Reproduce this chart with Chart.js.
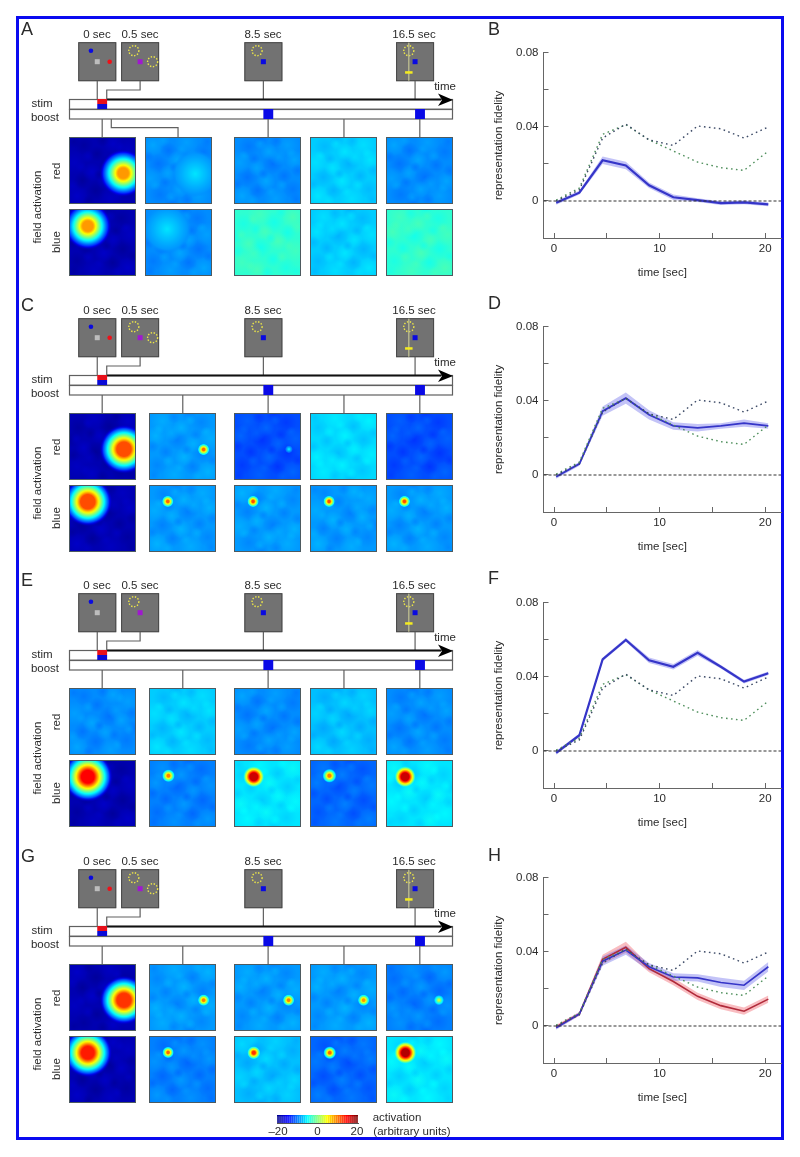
<!DOCTYPE html>
<html>
<head>
<meta charset="utf-8">
<title>Representation fidelity and field activation</title>
<script src="https://cdn.jsdelivr.net/npm/chart.js@4/dist/chart.umd.min.js"></script>
<style>
html, body { margin: 0; padding: 0; background: #fff; }
#fig { position: relative; width: 800px; height: 1157px; overflow: hidden; filter: blur(0.4px); font-family: "Liberation Sans", Arial, sans-serif; color: #2b2b2b; }
#fig canvas { position: absolute; display: block; }
#frame { position: absolute; left: 16px; top: 16px; width: 762px; height: 1118px; border: 3.5px solid #0a0af0; }
.lbl { position: absolute; white-space: nowrap; font-size: 11.5px; line-height: 14px; transform: translate(-50%, -50%); }
.letter { position: absolute; font-size: 18px; line-height: 18px; }
</style>
</head>
<body>
<div id="fig"><div id="frame"></div></div>
<script>
// ---- right column: representation fidelity curves ----
const timeSec = [0.2, 2.4, 4.6, 6.8, 9.0, 11.3, 13.6, 15.8, 18.0, 20.3];
const dottedDark = [0, 0.006, 0.034, 0.0415, 0.033, 0.030, 0.0405, 0.039, 0.034, 0.040];
const dottedGreen = [0.0005, 0.007, 0.036, 0.0412, 0.033, 0.027, 0.021, 0.018, 0.0165, 0.027];
const fidelityB = [-0.001, 0.0045, 0.022, 0.0192, 0.0085, 0.002, 0.0005, -0.0012, -0.0008, -0.0018];
const fidelityD = [-0.001, 0.006, 0.0345, 0.0415, 0.0325, 0.0265, 0.0255, 0.0265, 0.028, 0.0265];
const fidelityF = [-0.001, 0.0085, 0.0495, 0.06, 0.049, 0.0455, 0.053, 0.0455, 0.0375, 0.042];
const fidelityHBlue = [-0.001, 0.0065, 0.035, 0.041, 0.032, 0.0265, 0.026, 0.0235, 0.022, 0.032];
const fidelityHRed = [-0.0005, 0.0065, 0.036, 0.0425, 0.031, 0.024, 0.016, 0.011, 0.008, 0.0145];
const errB = [0.001, 0.001, 0.002, 0.002, 0.0015, 0.0015, 0.001, 0.001, 0.001, 0.001];
const errD = [0.001, 0.001, 0.0025, 0.003, 0.0025, 0.002, 0.002, 0.0015, 0.002, 0.0015];
const errF = [0.001, 0.001, 0.001, 0.001, 0.0015, 0.0015, 0.0015, 0.001, 0.001, 0.001];
const errHBlue = [0.001, 0.001, 0.0025, 0.0025, 0.002, 0.002, 0.002, 0.0025, 0.0025, 0.0025];
const errHRed = [0.001, 0.001, 0.0025, 0.003, 0.002, 0.002, 0.002, 0.002, 0.002, 0.002];
const xTickValues = [0, 5, 10, 15, 20];
const xTickLabels = ['0', '', '10', '', '20'];
const yTickValues = [-0.02, 0, 0.02, 0.04, 0.06, 0.08];
const yTickLabels = ['', '0', '', '0.04', '', '0.08'];

// ---- left column: field activation panels, rows A C E G ----
const rowLetters = ['A', 'C', 'E', 'G'];
const curveLetters = ['B', 'D', 'F', 'H'];
const columnLefts = [69, 149, 234, 310, 386];
const screenLabels = ['0 sec', '0.5 sec', '8.5 sec', '16.5 sec'];
const screenTimes = [-0.26, 2, 8.5, 16.5];
const boostTimes = [8.5, 16.5];
const panelTimes = [0, 4.25, 8.75, 12.75, 16.75];

// background activation of each panel
const baseRed = [
  [-18.5, -9.5, -9.5, -7, -9.5],
  [-18.5, -9, -12, -6.5, -12],
  [-9.5, -7, -9.5, -7.5, -9.5],
  [-18.5, -9, -9, -9, -10]
];
const baseBlue = [
  [-18.5, -9.5, -3.2, -7, -3.2],
  [-18.5, -9, -9, -9, -9],
  [-18.5, -10, -6, -11, -6],
  [-18.5, -10, -7.5, -11, -6]
];
// activation bumps [x, y, extent, slope peak, ceiling] in field coordinates
const spotsRed = [
  [[[0.81, 0.46, 0.36, 18, 9]], [[0.75, 0.45, 0.35, -6, -6]], [], [], []],
  [[[0.82, 0.46, 0.37, 26, 12]], [[0.815, 0.455, 0.09, 17, 11]], [[0.82, 0.46, 0.06, -5, -5]], [], []],
  [[], [], [], [], []],
  [[[0.82, 0.46, 0.37, 27, 13]], [[0.815, 0.46, 0.09, 16, 10]], [[0.815, 0.46, 0.09, 16, 10]], [[0.8, 0.46, 0.09, 15, 9]], [[0.79, 0.46, 0.08, 5, 5]]]
];
const spotsBlue = [
  [[[0.28, 0.745, 0.36, 18, 9]], [[0.33, 0.7, 0.36, -6, -6]], [], [], []],
  [[[0.28, 0.75, 0.37, 26, 12]], [[0.28, 0.755, 0.09, 17, 11]], [[0.285, 0.755, 0.09, 18, 12]], [[0.285, 0.755, 0.09, 18, 12]], [[0.275, 0.755, 0.09, 18, 12]]],
  [[[0.28, 0.75, 0.38, 28, 15]], [[0.29, 0.765, 0.1, 16, 10]], [[0.295, 0.75, 0.16, 32, 17]], [[0.29, 0.765, 0.11, 16, 10]], [[0.285, 0.75, 0.16, 32, 17]]],
  [[[0.28, 0.75, 0.37, 27, 14]], [[0.285, 0.755, 0.09, 17, 11]], [[0.295, 0.75, 0.1, 20, 13]], [[0.295, 0.75, 0.1, 17, 11]], [[0.29, 0.75, 0.17, 32, 18]]]
];
// soft blotches that give the panels their mottled look
const mottleX = [0.12, 0.35, 0.62, 0.88, 0.2, 0.48, 0.75, 0.08, 0.34, 0.58, 0.9, 0.22, 0.52, 0.8, 0.4, 0.66, 0.05, 0.27, 0.44, 0.71, 0.95, 0.15, 0.39, 0.63, 0.85, 0.3, 0.55, 0.93];
const mottleY = [0.88, 0.8, 0.92, 0.78, 0.6, 0.66, 0.58, 0.38, 0.46, 0.4, 0.34, 0.14, 0.22, 0.12, 0.02, 0.3, 0.7, 0.95, 0.55, 0.72, 0.5, 0.28, 0.1, 0.06, 0.24, 0.32, 0.82, 0.93];
const mottleSize = [0.17, 0.13, 0.18, 0.15, 0.16, 0.14, 0.12, 0.18, 0.13, 0.16, 0.15, 0.16, 0.13, 0.18, 0.12, 0.13, 0.09, 0.1, 0.08, 0.09, 0.1, 0.08, 0.09, 0.1, 0.08, 0.09, 0.08, 0.1];
const mottleDelta = [1.4, -1.3, 1, -1, -1.3, 1.4, -1.2, 1.1, 1.2, -1.4, 1.3, -1, 1.3, 1, -1.2, 0.9, -1, 1, -0.9, 0.9, -1, 1, 0.9, -0.9, 1, -1, 0.9, -0.9];

const colorbarValues = Array.from({ length: 41 }, (_, i) => i - 20);
const colorbarLabels = { '-20': '\u201320', '0': '0', '20': '20' };

const rowOffsets = [0, 276, 551, 827];
const curveTops = [48, 322, 598, 873];
const curveHeight = 190;

Chart.defaults.animation = false;
Chart.defaults.responsive = false;
Chart.defaults.events = [];
Chart.defaults.plugins.legend.display = false;
Chart.defaults.plugins.tooltip.enabled = false;
Chart.defaults.font.family = '"Liberation Sans", Arial, sans-serif';

const fig = document.getElementById('fig');

function addCanvas(left, top, width, height) {
  const c = document.createElement('canvas');
  c.width = width;
  c.height = height;
  c.style.left = left + 'px';
  c.style.top = top + 'px';
  fig.appendChild(c);
  return c;
}

function addLabel(text, x, y, rotated) {
  const el = document.createElement('div');
  el.className = 'lbl';
  el.textContent = text;
  el.style.left = x + 'px';
  el.style.top = y + 'px';
  if (rotated) el.style.transform = 'translate(-50%, -50%) rotate(-90deg)';
  fig.appendChild(el);
}

function addLetter(text, x, y) {
  const el = document.createElement('div');
  el.className = 'letter';
  el.textContent = text;
  el.style.left = x + 'px';
  el.style.top = y + 'px';
  fig.appendChild(el);
}

// jet colour map over -20..20
function jet(v) {
  const t = Math.max(0, Math.min(1, (v + 20) / 40));
  const stops = [[0, 0, 0, 143], [0.125, 0, 0, 255], [0.375, 0, 255, 255], [0.625, 255, 255, 0], [0.875, 255, 0, 0], [1, 128, 0, 0]];
  for (let i = 1; i < stops.length; i++) {
    if (t <= stops[i][0]) {
      const a = stops[i - 1], b = stops[i];
      const f = (t - a[0]) / (b[0] - a[0]);
      return [1, 2, 3].map(k => Math.round(a[k] + (b[k] - a[k]) * f));
    }
  }
  return [128, 0, 0];
}

function pixelSize(chart, extent) {
  const size = chart.scales.x.getPixelForValue(extent) - chart.scales.x.getPixelForValue(0);
  return Number.isFinite(size) ? size : 0;
}

// radial fill running through the colour map from the peak down to the panel level
function spotFill(ctx) {
  if (!ctx.raw) return 'transparent';
  const chart = ctx.chart, p = ctx.raw;
  const px = chart.scales.x.getPixelForValue(p.x), py = chart.scales.y.getPixelForValue(p.y);
  if (!Number.isFinite(px) || !Number.isFinite(py)) return 'transparent';
  const g = chart.ctx.createRadialGradient(px, py, 0, px, py, pixelSize(chart, p.ext));
  const steps = 24;
  for (let i = 0; i <= steps; i++) {
    const s = i / steps;
    const v = Math.min(p.cap, p.base + (p.peak - p.base) * Math.pow(1 - s, 1.1));
    const alpha = Math.min(1, (steps - i) / 4);
    g.addColorStop(s, `rgba(${jet(v).join(',')},${alpha})`);
  }
  return g;
}

function mottleFill(ctx) {
  if (!ctx.raw) return 'transparent';
  const chart = ctx.chart, p = ctx.raw;
  const px = chart.scales.x.getPixelForValue(p.x), py = chart.scales.y.getPixelForValue(p.y);
  if (!Number.isFinite(px) || !Number.isFinite(py)) return 'transparent';
  const g = chart.ctx.createRadialGradient(px, py, 0, px, py, pixelSize(chart, p.ext));
  const rgb = jet(p.base + p.delta).join(',');
  g.addColorStop(0, `rgba(${rgb},0.7)`);
  g.addColorStop(1, `rgba(${rgb},0)`);
  return g;
}

const panelFrame = {
  id: 'panelFrame',
  beforeDatasetsDraw(chart, args, opts) {
    const { left, top, width, height } = chart.chartArea;
    chart.ctx.fillStyle = `rgb(${jet(opts.base).join(',')})`;
    chart.ctx.fillRect(left, top, width, height);
  },
  afterDatasetsDraw(chart) {
    const { left, top, width, height } = chart.chartArea;
    chart.ctx.strokeStyle = '#4d5a60';
    chart.ctx.lineWidth = 1;
    chart.ctx.strokeRect(left + 0.5, top + 0.5, width - 1, height - 1);
  }
};

function drawPanel(left, top, base, spots, seed) {
  // each panel reads the blotch list in a different orientation
  const mottle = mottleX.map((mx, i) => {
    const my = mottleY[i];
    const a = seed % 2 ? mx : 1 - mx;
    const b = seed % 3 === 0 ? my : 1 - my;
    return { x: seed % 5 === 1 ? b : a, y: seed % 5 === 1 ? a : b, ext: mottleSize[i], delta: mottleDelta[i], base };
  });
  new Chart(addCanvas(left, top, 67, 67), {
    type: 'scatter',
    data: {
      datasets: [
        {
          data: spots.map(s => ({ x: s[0], y: s[1], ext: s[2], peak: s[3], cap: s[4], base })),
          pointRadius: ctx => ctx.raw ? pixelSize(ctx.chart, ctx.raw.ext) : 0,
          pointBackgroundColor: spotFill,
          pointBorderWidth: 0
        },
        {
          data: mottle,
          pointRadius: ctx => ctx.raw ? pixelSize(ctx.chart, ctx.raw.ext) : 0,
          pointBackgroundColor: mottleFill,
          pointBorderWidth: 0
        }
      ]
    },
    options: {
      layout: { padding: 0 },
      plugins: { panelFrame: { base } },
      scales: {
        x: { display: false, min: 0, max: 1 },
        y: { display: false, min: 0, max: 1 }
      }
    },
    plugins: [panelFrame]
  });
}

// stimulus screens, time bars and pulses of one row
function timelinePlugin(hasSecondTarget) {
  return {
    id: 'timeline',
    beforeDatasetsDraw(chart) {
      const c = chart.ctx, y = chart.scales.y;
      const l = chart.chartArea.left, r = chart.chartArea.right;
      c.fillStyle = '#fff';
      c.strokeStyle = '#606060';
      c.lineWidth = 1.2;
      c.fillRect(l, y.getPixelForValue(63), r - l, 19.5);
      c.strokeRect(l + 0.5, y.getPixelForValue(63) + 0.5, r - l - 1, 9.7);
      c.strokeRect(l + 0.5, y.getPixelForValue(73) + 0.5, r - l - 1, 9.5);
    },
    afterDatasetsDraw(chart) {
      const c = chart.ctx, x = chart.scales.x, y = chart.scales.y;
      const blockW = x.getPixelForValue(0.52) - x.getPixelForValue(0);
      // stim pulse at trial start
      const sx = x.getPixelForValue(screenTimes[0]);
      c.fillStyle = '#e8101a';
      c.fillRect(sx, y.getPixelForValue(63), blockW, 5);
      c.fillStyle = '#0a0ad8';
      c.fillRect(sx, y.getPixelForValue(68), blockW, 5);
      // boost pulses
      c.fillStyle = '#0a0ae6';
      boostTimes.forEach(t => c.fillRect(x.getPixelForValue(t), y.getPixelForValue(73), blockW, 10));
      // time arrow
      const ay = y.getPixelForValue(63.5), end = chart.chartArea.right;
      c.strokeStyle = '#111';
      c.lineWidth = 1.8;
      c.beginPath();
      c.moveTo(sx + blockW, ay);
      c.lineTo(end - 12, ay);
      c.stroke();
      c.fillStyle = '#000';
      c.beginPath();
      c.moveTo(end - 15, ay - 6);
      c.lineTo(end, ay + 0.5);
      c.lineTo(end - 15, ay + 6.5);
      c.lineTo(end - 11, ay + 0.5);
      c.closePath();
      c.fill();
      // stimulus screens
      const yMid = y.getPixelForValue(25.7);
      const dot = (px, py, col) => { c.fillStyle = col; c.beginPath(); c.arc(px, py, 2.3, 0, Math.PI * 2); c.fill(); };
      const square = (px, py, col) => { c.fillStyle = col; c.fillRect(px - 2.5, py - 2.5, 5, 5); };
      const ring = (px, py) => {
        c.save();
        c.strokeStyle = '#ece648';
        c.lineWidth = 1.4;
        c.setLineDash([1.4, 1.6]);
        c.beginPath();
        c.arc(px, py, 5, 0, Math.PI * 2);
        c.stroke();
        c.restore();
      };
      screenTimes.forEach((t, i) => {
        const cx = x.getPixelForValue(t);
        c.fillStyle = '#727272';
        c.fillRect(cx - 19, yMid - 19.5, 38, 39);
        c.strokeStyle = '#484848';
        c.lineWidth = 1;
        c.strokeRect(cx - 18.5, yMid - 19, 37, 38);
        if (i === 0) {
          dot(cx - 6.3, yMid - 11, '#0a0ae0');
          square(cx, yMid, '#bdbdbd');
          if (hasSecondTarget) dot(cx + 12.4, yMid, '#f01018');
        } else {
          ring(cx - 6.3, yMid - 11);
          if (i === 1) {
            square(cx, yMid, '#a018d0');
            if (hasSecondTarget) ring(cx + 12.5, yMid);
          } else {
            square(cx, yMid, '#0a0ae0');
          }
          if (i === 3) {
            c.fillStyle = '#b9b98e';
            c.fillRect(cx - 7, yMid - 19, 1.4, 38);
            c.fillStyle = '#f4ec20';
            c.fillRect(cx - 10, yMid + 9.5, 7.5, 2.5);
          }
        }
      });
    }
  };
}

function drawSchematic(row) {
  const linkSets = [];
  const stimLinks = [
    [[screenTimes[0], 45], [screenTimes[0], 63]],
    [[screenTimes[1], 45], [screenTimes[1], 54], [0.24, 54], [0.24, 63]],
    [[screenTimes[2], 45], [screenTimes[2], 63]],
    [[screenTimes[3], 45], [screenTimes[3], 63]]
  ];
  stimLinks.forEach(l => linkSets.push(l));
  panelTimes.forEach((t, i) => {
    if (row === 0 && i === 1) linkSets.push([[0.48, 83], [0.48, 91.7], [4, 91.7], [4, 101]]);
    else linkSets.push([[t, 83], [t, 101]]);
  });
  new Chart(addCanvas(60, rowOffsets[row] + 36, 400, 102), {
    type: 'scatter',
    data: {
      datasets: linkSets.map(l => ({
        data: l.map(p => ({ x: p[0], y: p[1] })),
        showLine: true,
        pointRadius: 0,
        borderColor: '#606060',
        borderWidth: 1.2
      }))
    },
    options: {
      layout: { padding: { left: 9, right: 7, top: 0, bottom: 0 } },
      scales: {
        x: { display: false, min: -1.75, max: 18.5 },
        y: { display: false, min: 0, max: 102, reverse: true }
      }
    },
    plugins: [timelinePlugin(row !== 2)]
  });
}

function bandSets(values, err, fillColor) {
  const pts = sign => timeSec.map((t, i) => ({ x: t, y: values[i] + sign * err[i] }));
  return [
    { data: pts(-1), borderWidth: 0, pointRadius: 0, fill: false },
    { data: pts(1), borderWidth: 0, pointRadius: 0, fill: '-1', backgroundColor: fillColor }
  ];
}

function solidSet(values, color, width) {
  return { data: timeSec.map((t, i) => ({ x: t, y: values[i] })), borderColor: color, borderWidth: width, pointRadius: 0 };
}

function dottedSet(values, color) {
  return { data: timeSec.map((t, i) => ({ x: t, y: values[i] })), borderColor: color, borderWidth: 1.4, borderDash: [1.6, 3.4], pointRadius: 0 };
}

function drawCurves(row, series) {
  const datasets = [
    { data: [{ x: -1, y: 0 }, { x: 21.5, y: 0 }], borderColor: '#333', borderWidth: 1.1, borderDash: [3, 2], pointRadius: 0 },
    dottedSet(dottedDark, '#3c4a66'),
    dottedSet(dottedGreen, '#4f8f5c')
  ];
  series.forEach(s => datasets.push(solidSet(s.values, s.color, s.width)));
  series.forEach(s => datasets.push(...bandSets(s.values, s.err, s.band)));
  const tickFont = { size: 11.5 };
  const axisGrid = { drawOnChartArea: false, color: '#666', tickLength: -5, lineWidth: 1 };
  new Chart(addCanvas(484, curveTops[row] - 12, 298, 12 + curveHeight + 46), {
    type: 'line',
    data: { datasets },
    options: {
      layout: { padding: { top: 12, right: 1, left: 0, bottom: 0 } },
      scales: {
        x: {
          type: 'linear', min: -1, max: 21.5,
          afterBuildTicks: s => { s.ticks = xTickValues.map(value => ({ value })); },
          afterFit: s => { s.height = 46; },
          grid: axisGrid,
          border: { color: '#666', width: 1 },
          ticks: {
            color: '#2b2b2b', font: tickFont, padding: 9, autoSkip: false, maxRotation: 0,
            callback: v => xTickLabels[xTickValues.indexOf(v)]
          },
          title: { display: true, text: 'time [sec]', color: '#2b2b2b', font: tickFont, padding: { top: 0, bottom: 4 } }
        },
        y: {
          min: -0.02, max: 0.08,
          afterBuildTicks: s => { s.ticks = yTickValues.map(value => ({ value })); },
          afterFit: s => { s.width = 59.5; },
          grid: axisGrid,
          border: { color: '#666', width: 1 },
          ticks: {
            color: '#2b2b2b', font: tickFont, padding: 10, autoSkip: false,
            callback: v => yTickLabels[yTickValues.indexOf(v)]
          },
          title: { display: true, text: 'representation fidelity', color: '#2b2b2b', font: tickFont, padding: { top: 8, bottom: 0 } }
        }
      }
    }
  });
}

function drawColorbar() {
  new Chart(addCanvas(258, 1114, 120, 26), {
    type: 'bar',
    data: {
      labels: colorbarValues,
      datasets: [{
        data: colorbarValues.map(() => 1),
        backgroundColor: colorbarValues.map(v => `rgb(${jet(v).join(',')})`),
        borderColor: colorbarValues.map(v => `rgb(${jet(v).join(',')})`),
        borderWidth: 1,
        barPercentage: 1,
        categoryPercentage: 1
      }]
    },
    options: {
      layout: { padding: { left: 19, right: 20, top: 1, bottom: 0 } },
      scales: {
        x: {
          afterFit: s => { s.height = 17; },
          grid: { drawOnChartArea: false, drawTicks: false },
          border: { color: '#555', width: 1 },
          ticks: {
            color: '#2b2b2b', font: { size: 11.5 }, padding: 2, autoSkip: false, maxRotation: 0,
            callback: function (v) { return colorbarLabels[this.getLabelForValue(v)] || ''; }
          }
        },
        y: { display: false, min: 0, max: 1 }
      }
    }
  });
  addLabel('activation', 397, 1117);
  addLabel('(arbitrary units)', 412, 1131);
}

// build the figure
rowLetters.forEach((letter, row) => {
  const dy = rowOffsets[row];
  addLetter(letter, 21, dy + 20);
  drawSchematic(row);
  screenLabels.forEach((text, i) => addLabel(text, [97, 140, 263, 414][i], dy + 34));
  addLabel('time', 445, dy + 86);
  addLabel('stim', 42, dy + 103);
  addLabel('boost', 45, dy + 117);
  addLabel('field activation', 37, dy + 207, true);
  addLabel('red', 56, dy + 171, true);
  addLabel('blue', 56, dy + 242, true);
  columnLefts.forEach((left, col) => {
    const x = row === 0 && col === 1 ? 145 : left;
    drawPanel(x, dy + 137, baseRed[row][col], spotsRed[row][col], row * 5 + col * 2 + 1);
    drawPanel(x, dy + 209, baseBlue[row][col], spotsBlue[row][col], row * 3 + col * 2 + 2);
  });
});

const bandBlue = 'rgba(96, 96, 235, 0.38)';
const bandRed = 'rgba(240, 90, 100, 0.4)';
drawCurves(0, [{ values: fidelityB, err: errB, color: '#3535c8', width: 2.2, band: bandBlue }]);
drawCurves(1, [{ values: fidelityD, err: errD, color: '#3535c8', width: 1.8, band: bandBlue }]);
drawCurves(2, [{ values: fidelityF, err: errF, color: '#3535c8', width: 2.2, band: bandBlue }]);
drawCurves(3, [
  { values: fidelityHBlue, err: errHBlue, color: '#3535c8', width: 1.6, band: bandBlue },
  { values: fidelityHRed, err: errHRed, color: '#b02a3a', width: 1.6, band: bandRed }
]);
curveLetters.forEach((letter, row) => addLetter(letter, 488, [20, 294, 569, 846][row]));
drawColorbar();
</script>
</body>
</html>
